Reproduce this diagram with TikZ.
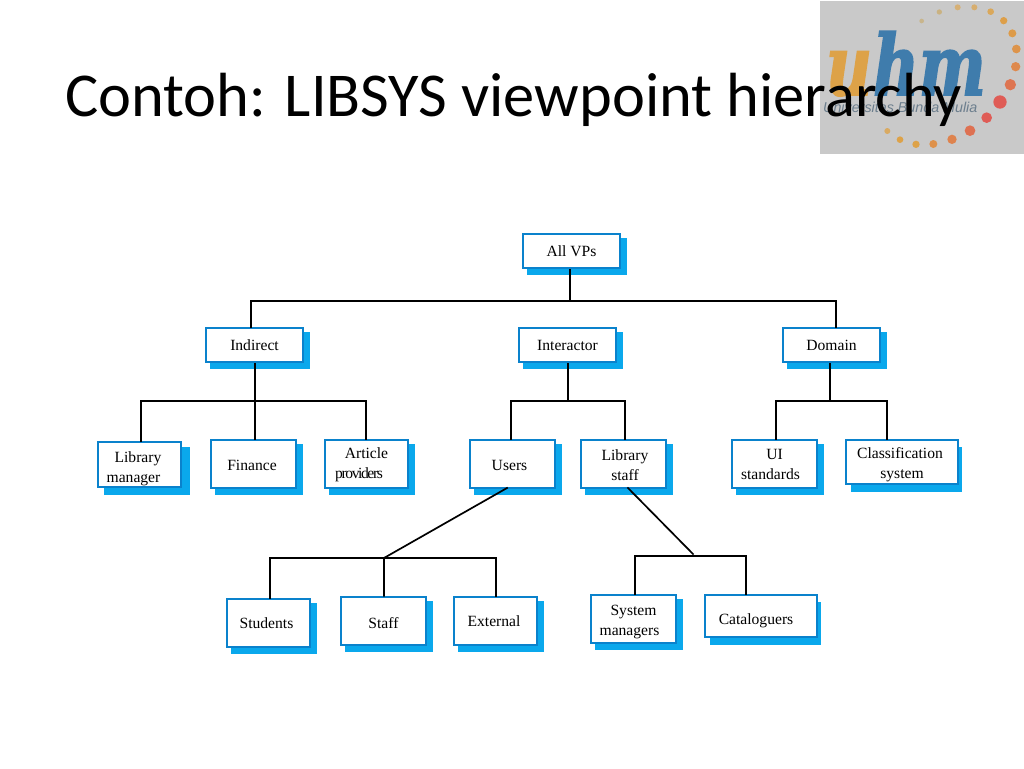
\documentclass[tikz,border=0pt]{standalone}
\usepackage{fontspec}
\setmainfont{Liberation Serif}
\newfontfamily\titlefont{Carlito}
\newfontfamily\logofont[FakeStretch=0.75,BoldItalicFeatures={FakeBold=2}]{DejaVu Serif}
\newfontfamily\logosans{Liberation Sans}
\usetikzlibrary{shadows}
\definecolor{vpblue}{HTML}{0A82CC}
\definecolor{vpshadow}{HTML}{0AA8EC}
\definecolor{logogray}{HTML}{C9C9C9}
\definecolor{logoblue}{HTML}{3F7CAC}
\definecolor{logoorange}{HTML}{DDA248}
\definecolor{logored}{HTML}{DF5C56}
\newcommand{\logodot}[4]{\fill[#4] ({800+#1/3},{#2/3}) circle ({#3/3});}
% text moved left by half of #1, or right, or down by #1
\newcommand{\vpleft}[2]{\mbox{#2\hspace{#1}}}
\newcommand{\vpright}[2]{\mbox{\hspace{#1}#2}}
\newcommand{\vpdrop}[1]{\rule{0pt}{\dimexpr10.5pt+2\dimexpr#1\relax\relax}}
\tikzset{
  vpbase/.style={draw=vpblue,line width=2.7pt,fill=white,inner sep=0pt,align=center,
    font=\fontsize{15.6}{20}\selectfont},
  vpbox/.style={vpbase,
    copy shadow={shadow xshift=5.8pt,shadow yshift=-5.8pt,draw=vpshadow,fill=vpshadow}},
  vpwide/.style={vpbase,
    copy shadow={shadow xshift=7.5pt,shadow yshift=-6.5pt,draw=vpshadow,fill=vpshadow}},
  vpflat/.style={vpbase,
    copy shadow={shadow scale=.97,shadow xshift=4.5pt,shadow yshift=-7.5pt,draw=vpshadow,fill=vpshadow}},
  link/.style={line width=1.7pt,black,line cap=rect}
}
\begin{document}
\begin{tikzpicture}[x=1pt,y=-1pt]
\useasboundingbox (0,0) rectangle (1024,768);
% logo
\fill[logogray] (820,1) rectangle (1024,154);
\logodot{365}{63}{7}{logoorange!35!logogray!90!olive}
\logodot{418}{36}{8}{logoorange!45!logogray!90!olive}
\logodot{473}{22}{9}{logoorange!65!logogray}
\logodot{523}{22}{9}{logoorange!70!logogray}
\logodot{572}{35}{10}{logoorange!85!logogray}
\logodot{611}{62}{11}{logoorange!95!logored}
\logodot{637}{100}{12}{logoorange!90!logored}
\logodot{649}{147}{13}{logoorange!80!logored}
\logodot{647}{200}{14}{logoorange!65!logored}
\logodot{631}{254}{17}{logoorange!35!logored}
\logodot{600}{306}{20}{logored}
\logodot{560}{353}{16}{logored}
\logodot{510}{392}{16}{logoorange!30!logored}
\logodot{456}{418}{14}{logoorange!55!logored}
\logodot{400}{432}{12}{logoorange!75!logored}
\logodot{348}{433}{11}{logoorange}
\logodot{300}{419}{10}{logoorange}
\logodot{262}{393}{9}{logoorange!80!logogray}
\node[anchor=base west,inner sep=0pt,text=logoorange,font=\logofont\fontsize{84}{84}\bfseries\itshape\selectfont] (logou) at (826,95) {u};
\node[anchor=base west,inner sep=0pt,text=logoblue,font=\logofont\fontsize{84}{84}\bfseries\itshape\selectfont] (logohm) at (873,95) {hm};
\node[anchor=base west,inner sep=0pt,text=logoblue!30!gray,font=\logosans\fontsize{14.3}{15}\itshape\selectfont] (logotext) at (823,112) {Universitas Bunda Mulia};
% title
\node[anchor=base west,inner sep=0pt,font=\titlefont\fontsize{62.4}{62.4}\selectfont] (title) at (65,116) {Contoh: LIBSYS viewpoint hierarchy};
% level 0 and 1
\node[vpbox,minimum width=97pt,minimum height=34pt] (allvps) at (571.5,251) {All VPs};
\node[vpbox,minimum width=97pt,minimum height=34pt] (indirect) at (254.5,345) {Indirect};
\node[vpbox,minimum width=97pt,minimum height=34pt] (interactor) at (567.5,345) {Interactor};
\node[vpbox,minimum width=97pt,minimum height=34pt] (domain) at (831.5,345) {Domain};
% level 2
\node[vpwide,minimum width=83pt,minimum height=45pt] (libmanager) at (139.5,464.5) {\vpdrop{4pt}\vpleft{3pt}{Library}\\\vpleft{12pt}{manager}};
\node[vpbox,minimum width=85pt,minimum height=48pt] (finance) at (253.5,464) {\vpdrop{1pt}\vpleft{3pt}{Finance}};
\node[vpbox,minimum width=83pt,minimum height=48pt] (article) at (366.5,464) {\vpdrop{1pt}Article\\\vpleft{15pt}{\addfontfeature{LetterSpace=-9}providers}};
\node[vpbox,minimum width=85pt,minimum height=48pt] (users) at (512.5,464) {\vpdrop{1pt}\vpleft{6pt}{Users}};
\node[vpbox,minimum width=85pt,minimum height=48pt] (libstaff) at (623.5,464) {\vpdrop{1pt}\vpright{3pt}{Library}\\\vpright{3pt}{staff}};
\node[vpbox,minimum width=85pt,minimum height=48pt] (uistd) at (774.5,464) {UI\\\vpleft{8pt}{standards}};
\node[vpflat,minimum width=112pt,minimum height=44pt] (classif) at (902,462) {\vpdrop{3pt}\vpleft{4pt}{Classification}\\system};
% level 3
\node[vpbox,minimum width=83pt,minimum height=48pt] (students) at (268.5,623) {\vpleft{4pt}{Students}};
\node[vpbox,minimum width=85pt,minimum height=48pt] (staff) at (383.5,621) {\vpdrop{2pt}Staff};
\node[vpbox,minimum width=83pt,minimum height=48pt] (external) at (495.5,621) {\vpleft{3pt}{External}};
\node[vpbox,minimum width=85pt,minimum height=48pt] (sysman) at (633.5,619) {\vpdrop{3pt}System\\\vpleft{8pt}{managers}};
\node[vpflat,minimum width=112pt,minimum height=42pt] (catalog) at (761,616) {\vpdrop{5pt}\vpleft{10pt}{Cataloguers}};
% connectors
\coordinate (topbus) at (570,301);
\coordinate (topl) at (251,301);
\coordinate (topr) at (836,301);
\draw[link] (topbus |- allvps.south) -- (topbus);
\draw[link] (topl |- indirect.north) -- (topl) -- (topr) -- (topr |- domain.north);
\coordinate (inbus) at (255,401);
\coordinate (inl) at (141,401);
\coordinate (inr) at (366,401);
\draw[link] (inbus |- indirect.south) -- (inbus |- finance.north);
\draw[link] (inl |- libmanager.north) -- (inl) -- (inr) -- (inr |- article.north);
\coordinate (actbus) at (568,401);
\coordinate (actl) at (511,401);
\coordinate (actr) at (625,401);
\draw[link] (actbus |- interactor.south) -- (actbus);
\draw[link] (actl |- users.north) -- (actl) -- (actr) -- (actr |- libstaff.north);
\coordinate (dombus) at (830,401);
\coordinate (doml) at (776,401);
\coordinate (domr) at (887,401);
\draw[link] (dombus |- domain.south) -- (dombus);
\draw[link] (doml |- uistd.north) -- (doml) -- (domr) -- (domr |- classif.north);
\coordinate (usrbus) at (384,558);
\coordinate (usrl) at (270,558);
\coordinate (usrr) at (496,558);
\coordinate (usrtop) at (507,488);
\draw[link] (usrtop) -- (usrbus) -- (usrbus |- staff.north);
\draw[link] (usrl |- students.north) -- (usrl) -- (usrr) -- (usrr |- external.north);
\coordinate (lsbus) at (693,554);
\coordinate (lsl) at (635,556);
\coordinate (lsr) at (746,556);
\coordinate (lstop) at (628,488);
\draw[link] (lstop) -- (lsbus);
\draw[link] (lsl |- sysman.north) -- (lsl) -- (lsr) -- (lsr |- catalog.north);
\end{tikzpicture}
\end{document}
